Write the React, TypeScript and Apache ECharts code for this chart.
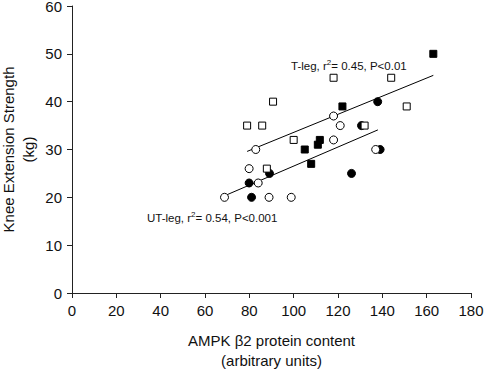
import React, { useEffect, useRef } from "react";
import * as echarts from "echarts";

const xTicks = [0, 20, 40, 60, 80, 100, 120, 140, 160, 180];
const yTicks = [0, 10, 20, 30, 40, 50, 60];

const openCircles: number[][] = [
  [68.8, 20], [79.9, 26], [82.9, 30], [84, 23], [88.9, 20], [98.9, 20],
  [118, 37], [121, 35], [118, 32], [137, 30],
];
const filledCircles: number[][] = [
  [79.9, 23], [81, 20], [89.1, 25], [126.1, 25], [137.9, 40], [130.6, 35], [139, 30],
];
const openSquares: number[][] = [
  [79, 35], [85.8, 35], [90.7, 40], [87.9, 26], [100, 32], [118, 45],
  [144, 45], [151, 39], [132, 35],
];
const filledSquares: number[][] = [
  [105, 30], [107.9, 27], [110.9, 31], [111.8, 32], [122, 39], [163, 50],
];
const tLegFit: number[][] = [[79, 29.6], [163, 45.5]];
const utLegFit: number[][] = [[69.7, 20.5], [138, 34.1]];

const tLegLabel = "T-leg, r{sup|2}= 0.45, P<0.01";
const utLegLabel = "UT-leg, r{sup|2}= 0.54, P<0.001";

const FONT = "Liberation Sans, Arial, sans-serif";

export default function App() {
  const ref = useRef<HTMLDivElement>(null);
  useEffect(() => {
    if (!ref.current) return;
    const chart = echarts.init(ref.current, null, { renderer: "svg" });
    const axisStyle = {
      axisLine: { show: true, lineStyle: { color: "#222", width: 1 } },
      axisTick: { show: true, length: 5, inside: false, lineStyle: { color: "#222" } },
      splitLine: { show: false },
    };
    const annText = (x: number, y: number, text: string) => ({
      type: "text",
      x,
      y,
      style: {
        text,
        fontFamily: FONT,
        fontSize: 11.5,
        fill: "#111",
        verticalAlign: "middle",
        rich: {
          sup: { fontSize: 8, verticalAlign: "top", padding: [0, 0, 8, 0], fontFamily: FONT, fill: "#111" },
        },
      },
    });
    chart.setOption({
      animation: false,
      backgroundColor: "#fff",
      textStyle: { fontFamily: FONT },
      grid: { left: 72, right: 13, top: 6, bottom: 77, containLabel: false, outerBoundsMode: "none" },
      xAxis: {
        type: "value",
        min: xTicks[0],
        max: xTicks[xTicks.length - 1],
        interval: 20,
        ...axisStyle,
        axisLabel: { fontSize: 15, color: "#111", margin: 10, fontFamily: FONT },
        name: "AMPK \u03b22 protein content\n(arbitrary units)",
        nameLocation: "middle",
        nameGap: 37,
        nameMoveOverlap: false,
        nameTextStyle: { fontSize: 15, color: "#111", lineHeight: 20, fontFamily: FONT },
      },
      yAxis: {
        type: "value",
        min: yTicks[0],
        max: yTicks[yTicks.length - 1],
        interval: 10,
        ...axisStyle,
        axisLabel: { fontSize: 15, color: "#111", margin: 10, fontFamily: FONT },
        name: "Knee Extension Strength\n(kg)",
        nameLocation: "middle",
        nameRotate: 90,
        nameGap: 34,
        nameMoveOverlap: false,
        nameTextStyle: { fontSize: 15, color: "#111", lineHeight: 20, fontFamily: FONT },
      },
      graphic: [annText(291, 66, tLegLabel), annText(147, 218, utLegLabel)],
      series: [
        {
          name: "T-leg fit",
          type: "line",
          data: tLegFit,
          symbol: "none",
          lineStyle: { color: "#000", width: 1 },
          z: 1,
        },
        {
          name: "UT-leg fit",
          type: "line",
          data: utLegFit,
          symbol: "none",
          lineStyle: { color: "#000", width: 1 },
          z: 1,
        },
        {
          name: "Filled circles",
          type: "scatter",
          data: filledCircles,
          symbol: "circle",
          symbolSize: 8,
          itemStyle: { color: "#000", borderColor: "#000", borderWidth: 1, opacity: 1 },
          z: 2,
        },
        {
          name: "Open circles",
          type: "scatter",
          data: openCircles,
          symbol: "circle",
          symbolSize: 8,
          itemStyle: { color: "#fff", borderColor: "#000", borderWidth: 1, opacity: 1 },
          z: 3,
        },
        {
          name: "Open squares",
          type: "scatter",
          data: openSquares,
          symbol: "rect",
          symbolSize: 7,
          itemStyle: { color: "#fff", borderColor: "#000", borderWidth: 1, opacity: 1 },
          z: 4,
        },
        {
          name: "Filled squares",
          type: "scatter",
          data: filledSquares,
          symbol: "rect",
          symbolSize: 7,
          itemStyle: { color: "#000", borderColor: "#000", borderWidth: 1, opacity: 1 },
          z: 5,
        },
      ],
    });
    return () => chart.dispose();
  }, []);
  return <div ref={ref} style={{ width: 484, height: 370, position: "absolute", left: 0, top: 0 }} />;
}
